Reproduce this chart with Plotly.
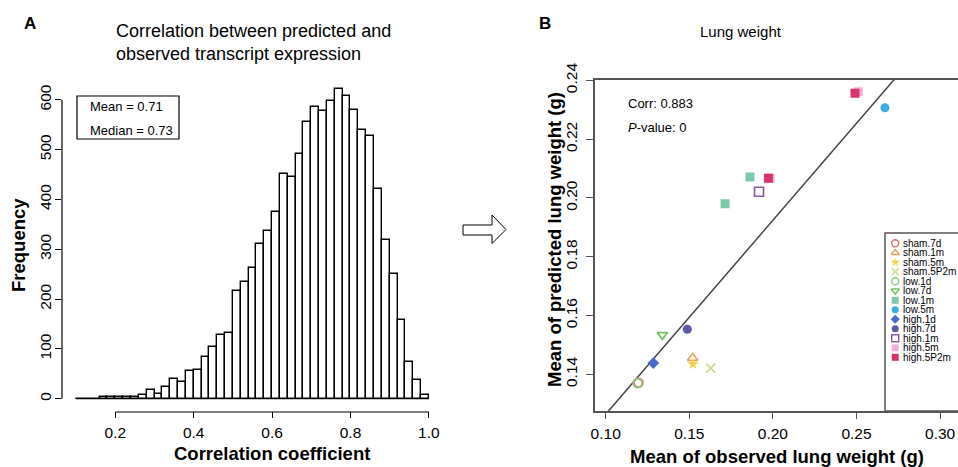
import plotly.graph_objects as go

# ---------------- Data ----------------
# Panel A: histogram of correlation coefficients (bin width 0.02 from 0.10 to 1.00)
bin_start = 0.10
bin_width = 0.02
hist_counts = [0, 0, 0, 3, 3, 3, 4, 3, 7, 17, 10, 23, 39, 34, 56, 58, 84, 103, 127, 131,
               216, 235, 262, 311, 336, 375, 452, 445, 491, 556, 586, 578, 598, 621, 608,
               580, 540, 527, 420, 318, 250, 157, 73, 37, 7]
hist_xticks = [0.2, 0.4, 0.6, 0.8, 1.0]
hist_yticks = [0, 100, 200, 300, 400, 500, 600]
hist_mean = 0.71
hist_median = 0.73

# Panel B: lung weight, observed vs predicted
groups = ["sham.7d", "sham.1m", "sham.5m", "sham.5P2m", "low.1d", "low.7d", "low.1m",
          "low.5m", "high.1d", "high.7d", "high.1m", "high.5m", "high.5P2m"]
obs_weight = [[0.1196], [0.1520], [0.1522], [0.1628], [0.1191], [0.1339], [0.1714, 0.1863],
              [0.2670], [0.1285], [0.1488], [0.1917], [0.1983, 0.2511], [0.1973, 0.2491]]
pred_weight = [[0.1371], [0.1455], [0.1435], [0.1421], [0.1370], [0.1534], [0.1980, 0.2071],
               [0.2307], [0.1438], [0.1553], [0.2021], [0.2068, 0.2361], [0.2067, 0.2356]]
fit_intercept = 0.0604
fit_slope = 0.660
corr_value = 0.883
p_value = 0
b_xticks = [0.10, 0.15, 0.20, 0.25, 0.30]
b_yticks = [0.14, 0.16, 0.18, 0.20, 0.22, 0.24]

# ---------------- Styles ----------------
colors = ["#e36b72", "#e8a060", "#f3d64e", "#c9dc86", "#8cc77c", "#74c163", "#7ccaa9",
          "#3aaee0", "#4a6bc9", "#5a5aa9", "#8b5aa8", "#f6aedb", "#d7336d"]
symbols = ["circle-open", "triangle-up-open", "star", "x-thin-open", "circle-open",
           "triangle-down-open", "square", "circle", "diamond", "circle", "square-open",
           "square", "square"]

W, H = 958, 467
def px(x):
    return x / W
def py(y):
    return 1 - y / H

FONT = "Liberation Sans, Arial, sans-serif"
fig = go.Figure()

# ---- Panel A ----
centers = [bin_start + bin_width * (i + 0.5) for i in range(len(hist_counts))]
edges_lo = bin_start
edges_hi = bin_start + bin_width * len(hist_counts)
fig.add_trace(go.Scatter(x=[edges_lo, edges_hi], y=[0, 0], mode="lines",
                         line=dict(color="black", width=1.3), showlegend=False,
                         xaxis="x", yaxis="y", hoverinfo="skip"))
fig.add_trace(go.Bar(x=centers, y=hist_counts, width=[bin_width] * len(hist_counts),
                     marker=dict(color="white", line=dict(color="black", width=1.4)),
                     showlegend=False, xaxis="x", yaxis="y"))

# ---- Panel B ----
xr_b = [0.0936, 0.0936 + (W - 595) / 1672]
fig.add_trace(go.Scatter(x=xr_b, y=[fit_intercept + fit_slope * v for v in xr_b],
                         mode="lines", line=dict(color="#444444", width=1.5),
                         showlegend=False, xaxis="x2", yaxis="y2", hoverinfo="skip"))
for g, xs, ys, c, s in zip(groups, obs_weight, pred_weight, colors, symbols):
    open_sym = s.endswith("open")
    fig.add_trace(go.Scatter(x=xs, y=ys, mode="markers", name=g,
                             marker=dict(symbol=s, color=c, size=9,
                                         line=dict(color=c, width=1.7 if open_sym else 0)),
                             showlegend=False, xaxis="x2", yaxis="y2"))

# ---- manual legend for panel B ----
n = len(groups)
fig.add_trace(go.Scatter(x=[0.14] * n, y=list(range(n)), mode="markers",
                         marker=dict(symbol=symbols, color=colors, size=7,
                                     line=dict(color=colors, width=[1.4 if s.endswith("open") else 0 for s in symbols])),
                         showlegend=False, xaxis="x3", yaxis="y3", hoverinfo="skip"))

annotations = []
for i, g in enumerate(groups):
    annotations.append(dict(x=0.225, y=i, xref="x3", yref="y3", text=g, showarrow=False,
                            xanchor="left", yanchor="middle",
                            font=dict(family=FONT, size=10, color="black")))

C = dict(xanchor="center", yanchor="middle", showarrow=False, xref="paper", yref="paper")
L = dict(xanchor="left", yanchor="middle", showarrow=False, xref="paper", yref="paper")
annotations += [
    dict(x=px(30), y=py(24), text="<b>A</b>", font=dict(family=FONT, size=17, color="black"), **C),
    dict(x=px(114), y=py(42), text="Correlation between predicted and<br>observed transcript expression",
         align="left", font=dict(family=FONT, size=18, color="black"), **L),
    dict(x=px(19), y=py(245), text="<b>Frequency</b>", textangle=-90,
         font=dict(family=FONT, size=18.5, color="black"), **C),
    dict(x=px(272), y=py(453), text="<b>Correlation coefficient</b>",
         font=dict(family=FONT, size=18.5, color="black"), **C),
    dict(x=px(88), y=py(107), text=f"Mean = {hist_mean:.2f}",
         font=dict(family=FONT, size=13, color="black"), **L),
    dict(x=px(88), y=py(130), text=f"Median = {hist_median:.2f}",
         font=dict(family=FONT, size=13, color="black"), **L),
    dict(x=px(545), y=py(24), text="<b>B</b>", font=dict(family=FONT, size=17, color="black"), **C),
    dict(x=px(741), y=py(31), text="Lung weight", font=dict(family=FONT, size=15, color="black"), **C),
    dict(x=px(554), y=py(240), text="<b>Mean of predicted lung weight (g)</b>", textangle=-90,
         font=dict(family=FONT, size=18.5, color="black"), **C),
    dict(x=px(777), y=py(456), text="<b>Mean of observed lung weight (g)</b>",
         font=dict(family=FONT, size=18.5, color="black"), **C),
    dict(x=px(626), y=py(103), text=f"Corr: {corr_value:.3f}",
         font=dict(family=FONT, size=13, color="black"), **L),
    dict(x=px(626), y=py(127), text=f"<i>P</i>-value: {p_value}",
         font=dict(family=FONT, size=13, color="black"), **L),
]

# arrow shape path (pixel coords -> paper)
arrow_pts = [(463, 225), (492, 225), (492, 215), (506, 229.5), (492, 243.5), (492, 235), (463, 235)]
path = "M " + " L ".join(f"{px(x):.5f},{py(y):.5f}" for x, y in arrow_pts) + " Z"

shapes = [
    # R-style axes for panel A
    dict(type="line", xref="x", yref="paper", x0=hist_xticks[0], x1=hist_xticks[-1],
         y0=py(412), y1=py(412), line=dict(color="black", width=1.2)),
    dict(type="line", xref="paper", yref="y", x0=px(62), x1=px(62),
         y0=hist_yticks[0], y1=hist_yticks[-1], line=dict(color="black", width=1.2)),
    # mean / median box
    dict(type="rect", xref="paper", yref="paper", x0=px(77), x1=px(179), y0=py(139), y1=py(96),
         line=dict(color="black", width=1.2), fillcolor="white", layer="above"),
    dict(type="path", xref="paper", yref="paper", path=path,
         line=dict(color="black", width=1), fillcolor="white"),
    # legend box
    dict(type="rect", xref="paper", yref="paper", x0=px(885), x1=px(960), y0=py(411), y1=py(233),
         line=dict(color="#555555", width=1.5)),
]

tickfont = dict(family=FONT, size=15.5, color="black")
fig.update_layout(
    width=W, height=H, margin=dict(l=0, r=0, t=0, b=0, autoexpand=False),
    paper_bgcolor="white", plot_bgcolor="white", bargap=0,
    annotations=annotations, shapes=shapes,
    xaxis=dict(domain=[px(62), px(443)], range=[0.064, 1.036], tickvals=hist_xticks,
               ticktext=[f"{v:.1f}" for v in hist_xticks], ticks="outside", ticklen=6,
               tickcolor="black", showline=False, showgrid=False, zeroline=False,
               tickfont=tickfont, anchor="y", ticklabelstandoff=1, automargin=False),
    yaxis=dict(domain=[py(411), py(77)], range=[-24.8, 645.8], tickvals=hist_yticks,
               ticks="outside", ticklen=6, tickcolor="black", showline=False, showgrid=False,
               zeroline=False, tickangle=-90, tickfont=tickfont, anchor="x",
               ticklabelstandoff=-2, automargin=False),
    xaxis2=dict(domain=[px(595), 1.0], range=xr_b, tickvals=b_xticks,
                ticktext=[f"{v:.2f}" for v in b_xticks], ticks="outside", ticklen=6,
                tickcolor="#555555", showline=True, mirror=True, linecolor="#555555",
                linewidth=1.5, showgrid=False, zeroline=False,
                tickfont=tickfont, anchor="y2", ticklabelstandoff=2, automargin=False),
    yaxis2=dict(domain=[py(411), py(79.5)], range=[0.1275, 0.2403], tickvals=b_yticks,
                ticktext=[f"{v:.2f}" for v in b_yticks], ticks="outside", ticklen=7,
                tickcolor="#555555", showline=True, mirror=True, linecolor="#555555",
                linewidth=1.5, showgrid=False, zeroline=False, tickangle=-90,
                tickfont=tickfont, anchor="x2", ticklabelstandoff=3, automargin=False),
    xaxis3=dict(domain=[px(885), px(958)], range=[0, 1], visible=False, fixedrange=True,
                anchor="y3", automargin=False),
    yaxis3=dict(domain=[py(411), py(233)], range=[(411 - 243.3) / 9.5, -(243.3 - 233) / 9.5],
                visible=False, fixedrange=True, anchor="x3", automargin=False),
)

fig.write_html("out.html", config={"displayModeBar": False},
               post_script="document.body.style.margin='0px';document.body.style.overflow='hidden';")
